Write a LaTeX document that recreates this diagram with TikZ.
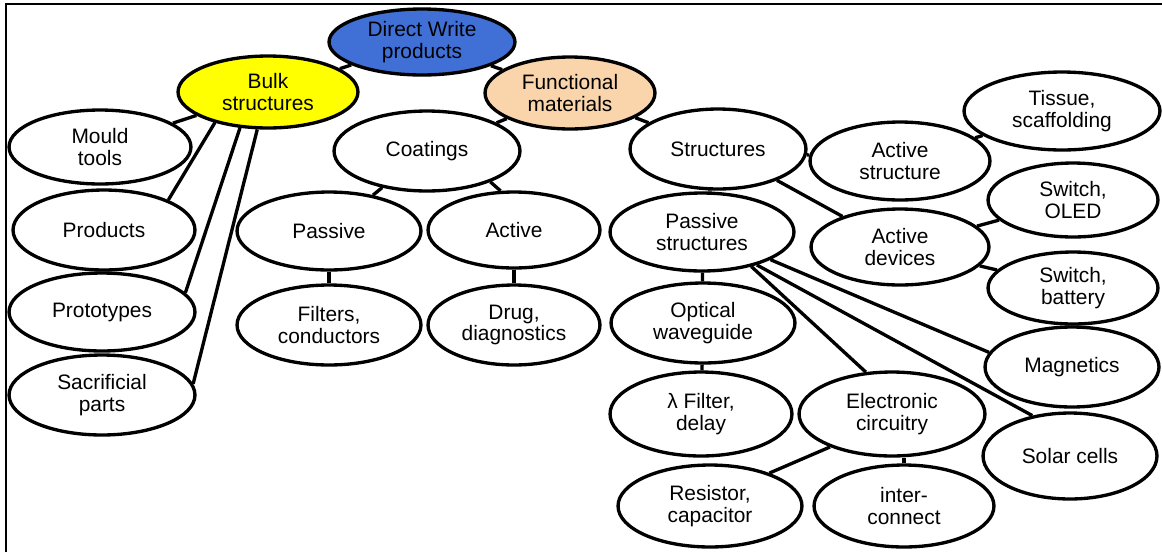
\documentclass[tikz,border=0pt]{standalone}
\usepackage{fontspec}
\setmainfont{Liberation Sans}
\usetikzlibrary{shapes.geometric,backgrounds}
\definecolor{dwblue}{RGB}{64,112,214}
\definecolor{bulkyellow}{RGB}{255,255,0}
\definecolor{funcpeach}{RGB}{250,212,170}
\begin{document}
\begin{tikzpicture}[x=0.02cm,y=-0.02cm,
  bub/.style 2 args={ellipse, draw=black, line width=1.9pt, fill=white,
    inner sep=0pt, align=center, text=black,
    font=\fontsize{11.9}{12.4}\selectfont,
    minimum width=#1*0.04cm, minimum height=#2*0.04cm},
  link/.style={line width=1.9pt, black},
  frameline/.style={line width=1.5pt, black}]
\useasboundingbox (0,0) rectangle (1162,552);
\draw[frameline] (6,552) -- (6,4) -- (1162,4);

\node[bub={93}{33}, fill=dwblue] (direct) at (422,42) {Direct Write\\products};
\node[bub={90}{36}, fill=bulkyellow] (bulk) at (268,92) {Bulk\\structures};
\node[bub={85}{36}, fill=funcpeach] (func) at (570,93) {Functional\\materials};
\node[bub={91}{37}] (mould) at (100,147) {Mould\\tools};
\node[bub={91}{40}] (products) at (104,230) {Products};
\node[bub={93}{39}] (proto) at (102,312) {Prototypes};
\node[bub={93}{40}] (sacr) at (102,395) {Sacrificial\\parts};
\node[bub={93}{40}] (coat) at (427,151) {Coatings};
\node[bub={92}{39}] (passive) at (329,231) {Passive};
\node[bub={86}{38}] (active) at (514,230) {Active};
\node[bub={92}{40}] (filters) at (329,325) {Filters,\\conductors};
\node[bub={86}{40}] (drug) at (514,325) {Drug,\\diagnostics};
\node[bub={88}{40}] (struct) at (718,149) {Structures};
\node[bub={90}{39}] (astruct) at (900,161) {Active\\structure};
\node[bub={98}{39}] (tissue) at (1062,111) {Tissue,\\scaffolding};
\node[bub={85}{37}] (oled) at (1073,200) {Switch,\\OLED};
\node[bub={89}{38}] (adev) at (900,247) {Active\\devices};
\node[bub={85}{36}] (battery) at (1073,288) {Switch,\\battery};
\node[bub={92}{39}] (pstruct) at (702,232) {Passive\\structures};
\node[bub={92}{40}] (optical) at (703,323) {Optical\\waveguide};
\node[bub={87}{40}] (magn) at (1072,367) {Magnetics};
\node[bub={91}{42}] (lambda) at (701,414) {λ Filter,\\delay};
\node[bub={93}{42}] (elec) at (892,414) {Electronic\\circuitry};
\node[bub={87}{43}] (solar) at (1070,456) {Solar cells};
\node[bub={92}{41}] (resist) at (710,506) {Resistor,\\capacitor};
\node[bub={90}{41}] (inter) at (904,506) {inter-\\connect};

\begin{scope}[on background layer]
\draw[link] (direct) -- (bulk);
\draw[link] (direct) -- (func);
\draw[link] (bulk) -- (mould);
\draw[link] (bulk.210) -- (products.25);
\draw[link] (bulk.232) -- (proto.13);
\draw[link] (bulk.254) -- (sacr.7);
\draw[link] (func) -- (coat);
\draw[link] (func) -- (struct);
\draw[link] (coat) -- (passive);
\draw[link] (coat.-26) -- (active.109);
\draw[link] (passive) -- (filters);
\draw[link] (active) -- (drug);
\draw[link] (struct) -- (pstruct);
\draw[link] (struct) -- (astruct);
\draw[link] (struct.-28) -- (adev.152);
\draw[link] (astruct) -- (tissue);
\draw[link] (adev) -- (oled);
\draw[link] (adev) -- (battery);
\draw[link] (pstruct) -- (optical);
\draw[link] (optical) -- (lambda);
\draw[link] (pstruct.-35) -- (elec.122);
\draw[link] (pstruct.-31) -- (solar.133);
\draw[link] (pstruct.-22) -- (magn.170);
\draw[link] (elec.208) -- (resist.29);
\draw[link] (inter.north) -- (inter.north |- elec.south);
\end{scope}
\end{tikzpicture}
\end{document}
